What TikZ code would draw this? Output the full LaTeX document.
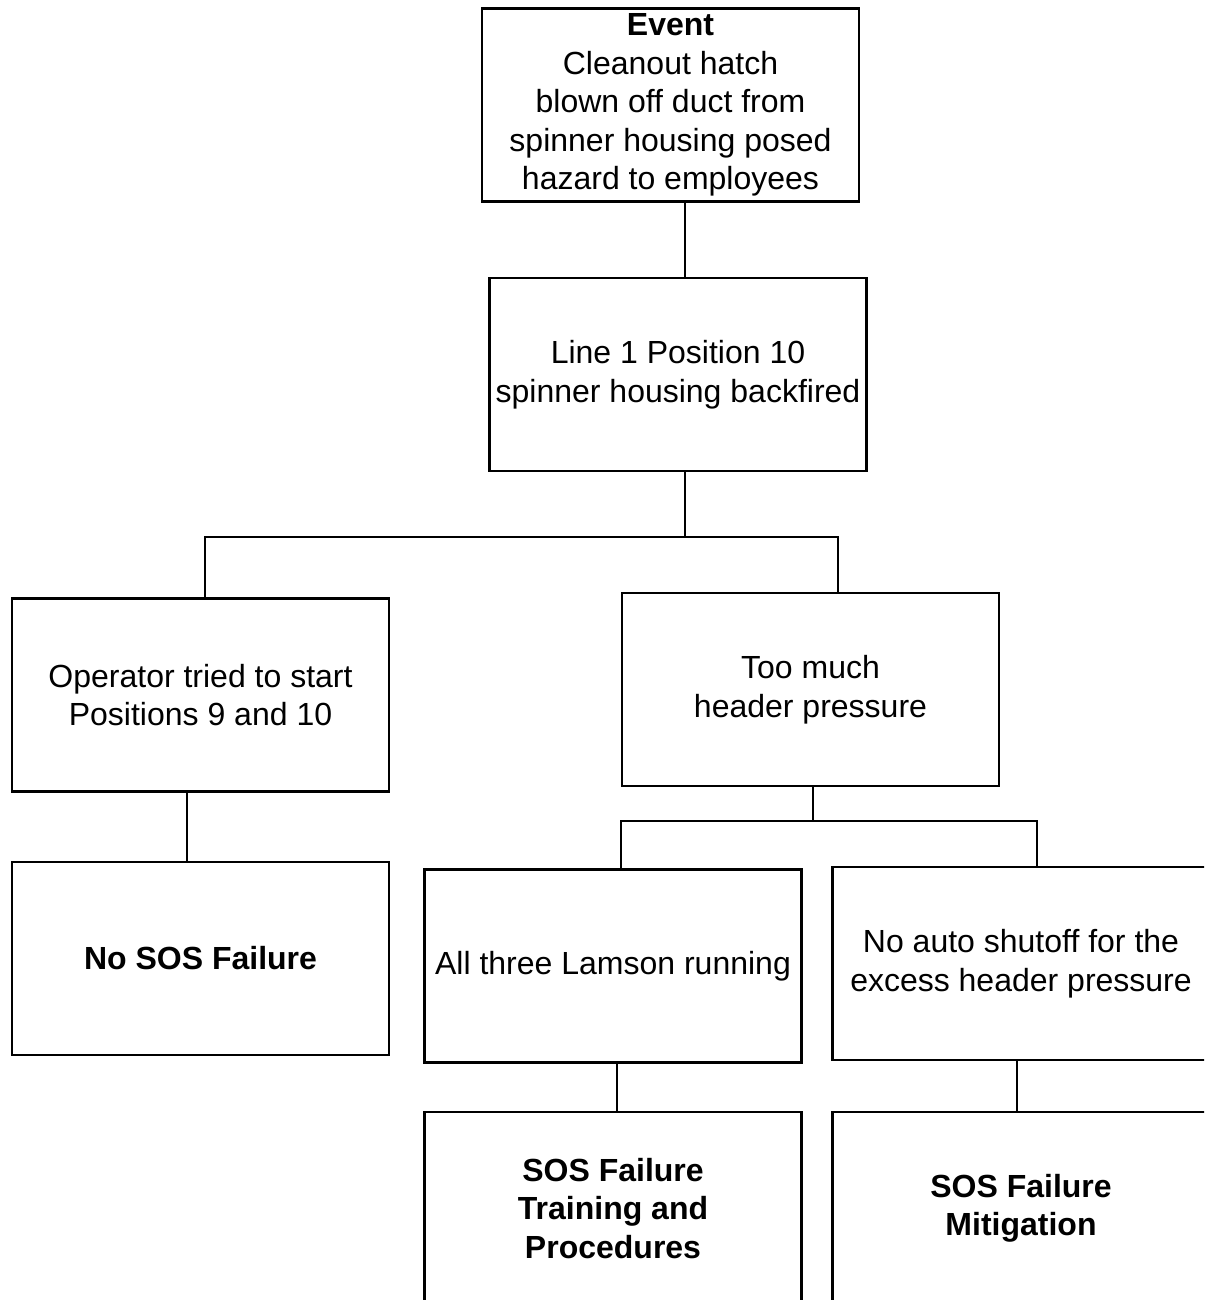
\documentclass[tikz,border=0pt]{standalone}
\usepackage{fontspec}
\setmainfont{Liberation Sans}
\usepackage{tikz}
\usetikzlibrary{positioning, calc}
\newcommand{\cause}[3]{%
  \node[causebox] (#1) at #2 {#3};
}

\begin{document}
\begin{tikzpicture}[x=1pt, y=-1pt,
    causebox/.style={draw, line width=2.8pt, minimum width=377pt,
      minimum height=193pt, inner sep=0pt, align=center,
      font=\fontsize{32}{38.5}\selectfont},
    link/.style={line width=2.2pt}]
  \useasboundingbox (0,0) rectangle (1204,1300);
  \clip (0,0) rectangle (1204,1300);
  \cause{ev}{(670.5,105)}{\textbf{Event}\\Cleanout hatch\\blown off duct from\\spinner housing posed\\hazard to employees}
  \cause{l1}{(678,374.5)}{Line 1 Position 10\\spinner housing backfired}
  \cause{op}{(200.5,695)}{Operator tried to start\\Positions 9 and 10}
  \cause{hp}{(810.5,689.5)}{Too much\\header pressure}
  \cause{nosos}{(200.5,958.5)}{\textbf{No SOS Failure}}
  \cause{lam}{(613,966)}{All three Lamson running}
  \cause{auto}{(1021,963.5)}{No auto shutoff for the\\excess header pressure}
  \cause{sos1}{(613,1208.5)}{\textbf{SOS Failure}\\\textbf{Training and}\\\textbf{Procedures}}
  \cause{sos2}{(1021,1208.5)}{\textbf{SOS Failure}\\\textbf{Mitigation}}
  % bus bars
  \coordinate (b1) at (685,537);
  \coordinate (b2) at (813,821);
  \draw[link] (ev.south -| b1) -- (l1.north -| b1);
  \draw[link] (l1.south -| b1) -- (b1);
  \draw[link] (op.north -| 205,0) |- (b1) -| (hp.north -| 838,0);
  \draw[link] (hp.south -| b2) -- (b2);
  \draw[link] (lam.north -| 621,0) |- (b2) -| (auto.north -| 1037,0);
  \draw[link] (op.south -| 187,0) -- (nosos.north -| 187,0);
  \draw[link] (lam.south -| 617,0) -- (sos1.north -| 617,0);
  \draw[link] (auto.south -| 1017,0) -- (sos2.north -| 1017,0);
\end{tikzpicture}
\end{document}
